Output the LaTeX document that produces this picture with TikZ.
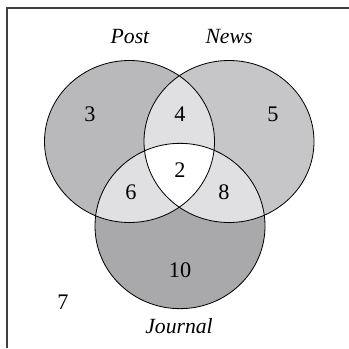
\documentclass[tikz,border=0pt]{standalone}
\usepackage{fontspec}
\setmainfont{Liberation Serif}
\usepackage{tikz}

\definecolor{postgray}{RGB}{185,185,188}
\definecolor{newsgray}{RGB}{198,198,200}
\definecolor{journalgray}{RGB}{169,169,172}
\definecolor{pairgray}{RGB}{224,224,226}

% the three sets, in pixel coordinates
\def\postset{(129.5,141.5) ellipse [x radius=2.55cm, y radius=2.43cm]}
\def\newsset{(229,141.5) ellipse [x radius=2.55cm, y radius=2.43cm]}
\def\journalset{(180,226) ellipse [x radius=2.55cm, y radius=2.48cm]}

\begin{document}
\begin{tikzpicture}[
    x=0.03cm, y=-0.03cm,
    setline/.style={draw=black, line width=0.7pt},
    frameline/.style={draw=black!75, line width=1.6pt},
    setlabel/.style={anchor=base, inner sep=0pt, font=\fontsize{18.5}{20}\selectfont\itshape},
    count/.style={anchor=base, inner sep=0pt, font=\fontsize{19}{20}\selectfont},
]
\useasboundingbox (0,0) rectangle (349,348);

% Frame (top and left only)
\draw[frameline] (7,348) -- (7,8) -- (349,8);

% Single sets
\fill[postgray] \postset;
\fill[newsgray] \newsset;
\fill[journalgray] \journalset;

% Pairwise overlaps
\begin{scope}
  \clip \postset;
  \fill[pairgray] \newsset;
  \fill[pairgray] \journalset;
\end{scope}
\begin{scope}
  \clip \newsset;
  \fill[pairgray] \journalset;
\end{scope}

% All three
\begin{scope}
  \clip \postset;
  \clip \newsset;
  \fill[white] \journalset;
\end{scope}

% Outlines
\draw[setline] \postset;
\draw[setline] \newsset;
\draw[setline] \journalset;

% Set names
\node[setlabel] (post) at (130,43.5) {Post};
\node[setlabel] (news) at (229,43.5) {News};
\node[setlabel] (journal) at (179,333) {Journal};

% Counts
\node[count] (onlypost) at (90,122) {3};
\node[count] (postnews) at (180,122) {4};
\node[count] (onlynews) at (273,122) {5};
\node[count] (allthree) at (180,177) {2};
\node[count] (postjournal) at (131,199) {6};
\node[count] (newsjournal) at (224,199) {8};
\node[count] (onlyjournal) at (180,277) {10};
\node[count] (none) at (63,309) {7};

\end{tikzpicture}
\end{document}
